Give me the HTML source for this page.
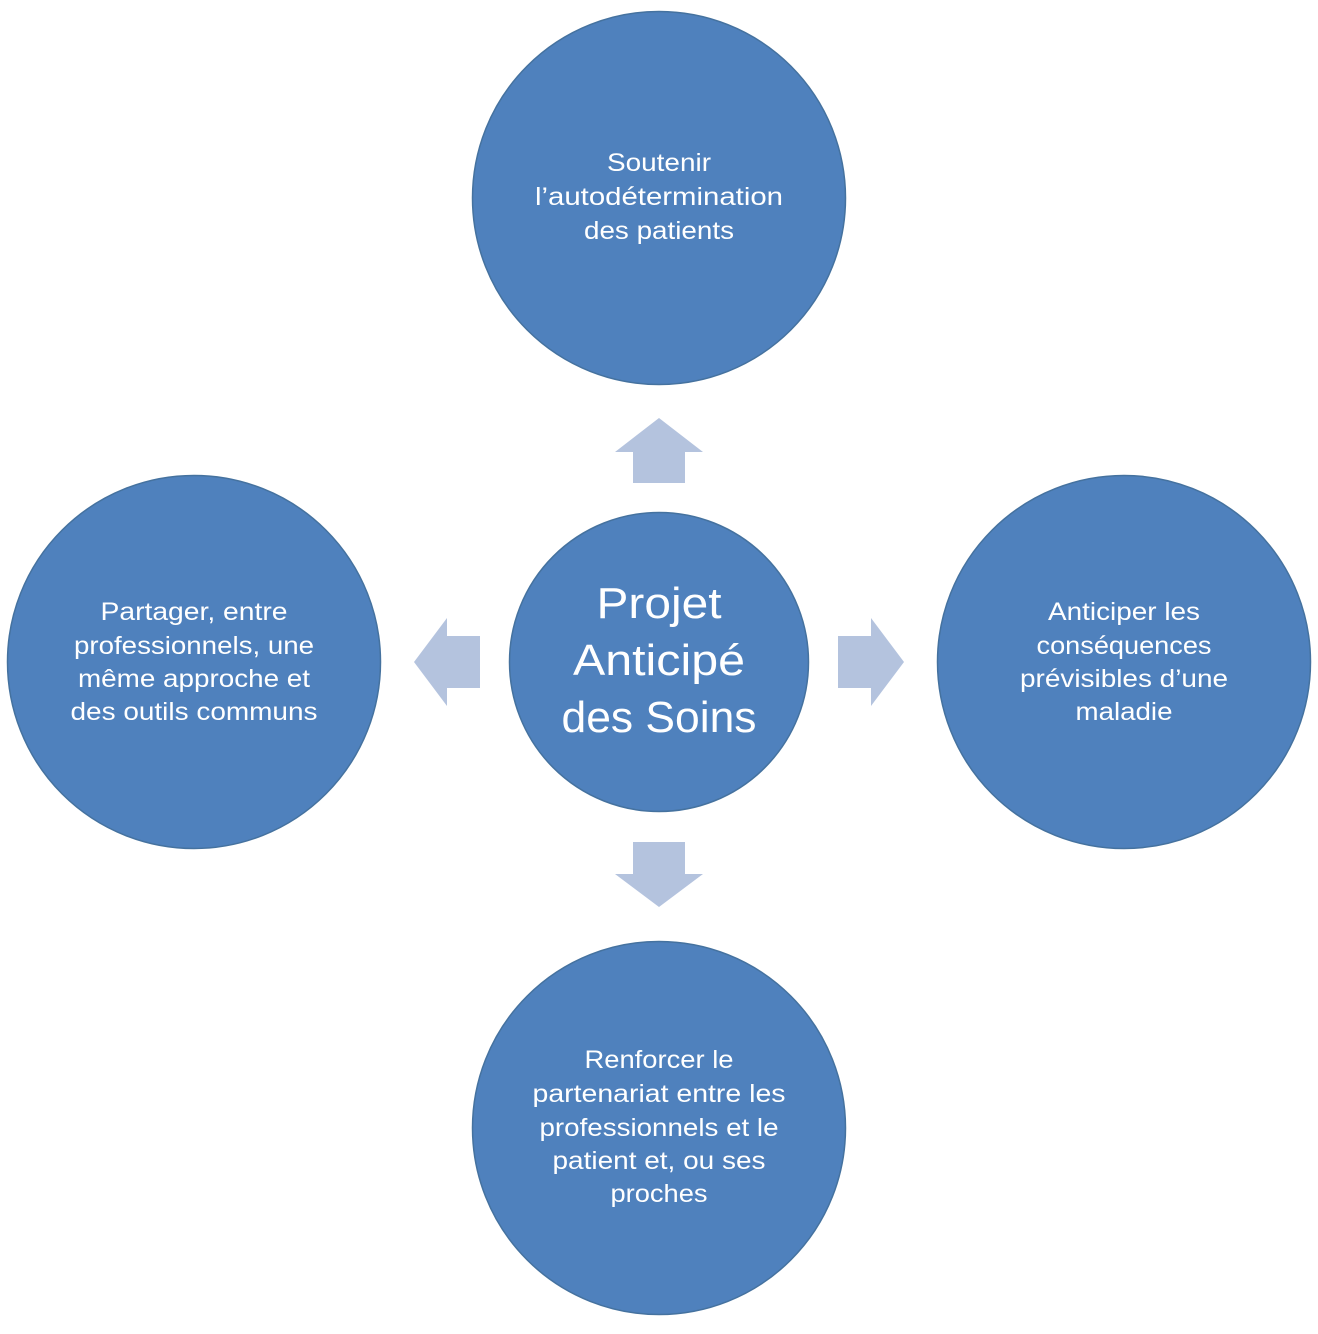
<!DOCTYPE html>
<html><head><meta charset="utf-8"><style>
html,body{margin:0;padding:0;background:#fff;}
svg{display:block}
text{font-family:"Liberation Sans","DejaVu Sans",sans-serif;fill:#fff;text-anchor:middle}
</style></head><body>
<svg width="1318" height="1334" viewBox="0 0 1318 1334">
<g fill="#4f81bd" stroke="#45729f" stroke-width="1.5">
<circle cx="659" cy="198" r="186.5"/>
<circle cx="194" cy="662" r="186.5"/>
<circle cx="1124" cy="662" r="186.5"/>
<circle cx="659" cy="1128" r="186.5"/>
<circle cx="659" cy="662" r="149.5"/>
</g>
<g fill="#b4c3de">
<polygon points="633,483 685,483 685,452 703,452 659,418 615,452 633,452"/>
<polygon points="633,842 685,842 685,874 703,874 659,907 615,874 633,874"/>
<polygon points="480,636 480,688 447,688 447,706 414,662 447,618 447,636"/>
<polygon points="838,636 838,688 871,688 871,706 904,662 871,618 871,636"/>
</g>
<g font-size="25" lengthAdjust="spacingAndGlyphs">
<text x="659" y="171" textLength="104" lengthAdjust="spacingAndGlyphs">Soutenir</text>
<text x="659" y="205" textLength="248" lengthAdjust="spacingAndGlyphs">l’autodétermination</text>
<text x="659" y="239" textLength="150" lengthAdjust="spacingAndGlyphs">des patients</text>
<text x="194" y="620" textLength="187" lengthAdjust="spacingAndGlyphs">Partager, entre</text>
<text x="194" y="654" textLength="240" lengthAdjust="spacingAndGlyphs">professionnels, une</text>
<text x="194" y="687" textLength="232" lengthAdjust="spacingAndGlyphs">même approche et</text>
<text x="194" y="720" textLength="247" lengthAdjust="spacingAndGlyphs">des outils communs</text>
<text x="1124" y="620" textLength="152" lengthAdjust="spacingAndGlyphs">Anticiper les</text>
<text x="1124" y="654" textLength="175" lengthAdjust="spacingAndGlyphs">conséquences</text>
<text x="1124" y="687" textLength="208" lengthAdjust="spacingAndGlyphs">prévisibles d’une</text>
<text x="1124" y="720" textLength="97" lengthAdjust="spacingAndGlyphs">maladie</text>
<text x="659" y="1068" textLength="149" lengthAdjust="spacingAndGlyphs">Renforcer le</text>
<text x="659" y="1102" textLength="253" lengthAdjust="spacingAndGlyphs">partenariat entre les</text>
<text x="659" y="1136" textLength="239" lengthAdjust="spacingAndGlyphs">professionnels et le</text>
<text x="659" y="1169" textLength="213" lengthAdjust="spacingAndGlyphs">patient et, ou ses</text>
<text x="659" y="1202" textLength="97" lengthAdjust="spacingAndGlyphs">proches</text>
</g>
<g font-size="44">
<text x="659" y="618" textLength="125" lengthAdjust="spacingAndGlyphs">Projet</text>
<text x="659" y="675" textLength="172" lengthAdjust="spacingAndGlyphs">Anticipé</text>
<text x="659" y="732" textLength="195" lengthAdjust="spacingAndGlyphs">des Soins</text>
</g>
</svg>
</body></html>
